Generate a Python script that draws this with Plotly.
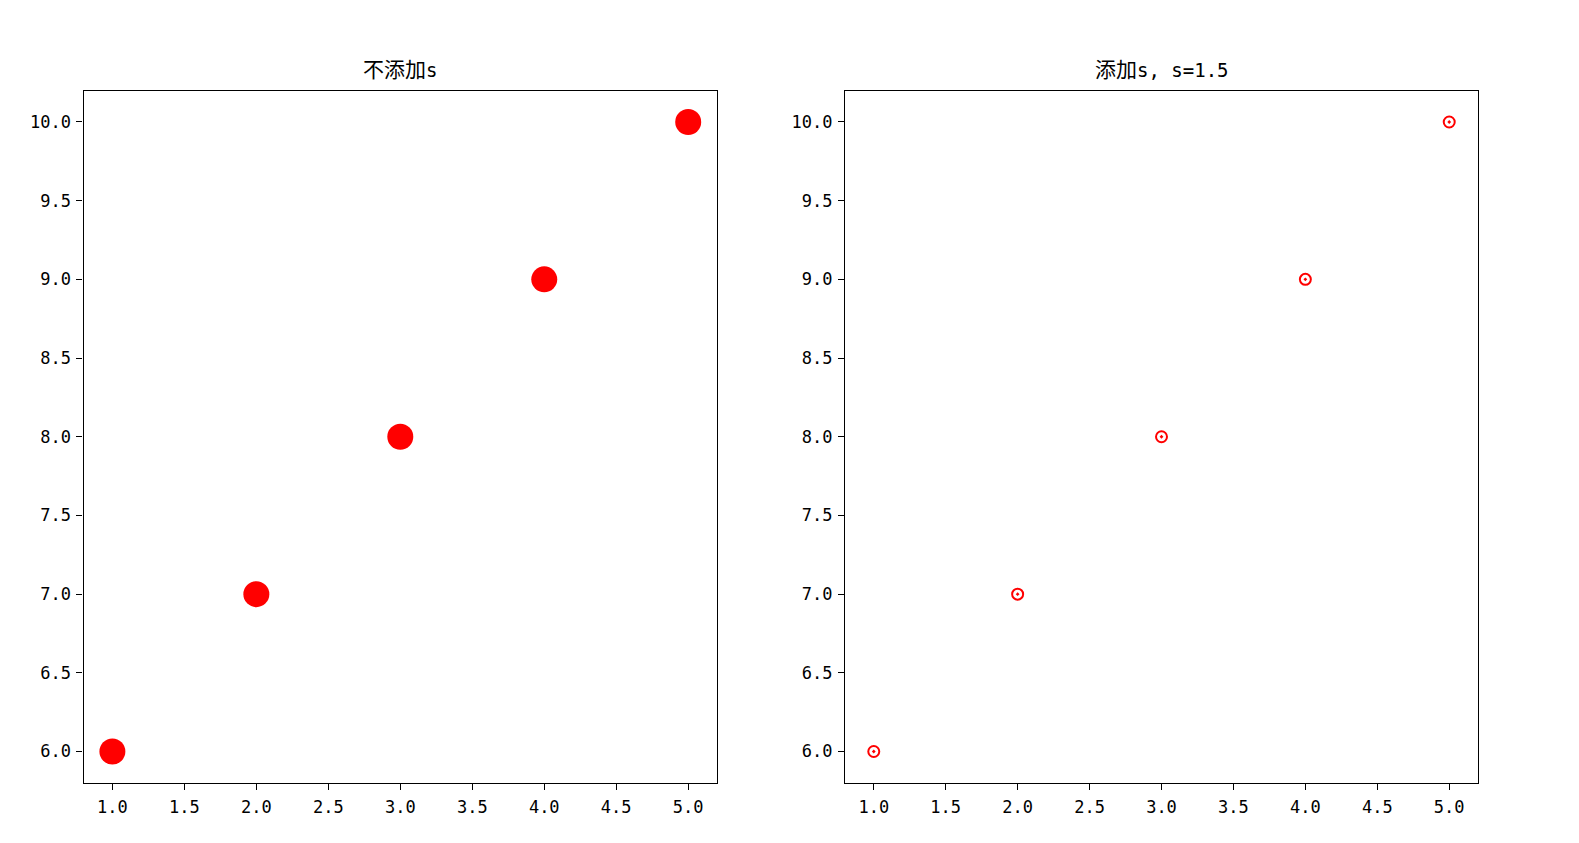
import plotly.graph_objects as go

x_vals = [1, 2, 3, 4, 5]
y_vals = [6, 7, 8, 9, 10]
titles = [("不添加", "s"), ("添加", "s, s=1.5")]
x_ticks = [1.0, 1.5, 2.0, 2.5, 3.0, 3.5, 4.0, 4.5, 5.0]
y_ticks = [6.0, 6.5, 7.0, 7.5, 8.0, 8.5, 9.0, 9.5, 10.0]

PAGE_W, PAGE_H = 1579, 843
OFF = 8  # default body margin of the page
W, H = PAGE_W - 2 * OFF, PAGE_H - 2 * OFF
FONT = "Noto Sans CJK SC, SimHei, sans-serif"
TICK_FONT = "DejaVu Sans Mono, monospace"


def px_x(p):
    return (p - OFF) / W


def px_y(p):
    return 1 - (p - OFF) / H


fig = go.Figure()
fig.add_trace(go.Scatter(x=x_vals, y=y_vals, mode="markers",
                         marker=dict(color="red", size=26, symbol="circle"),
                         xaxis="x", yaxis="y", showlegend=False))
fig.add_trace(go.Scatter(x=x_vals, y=y_vals, mode="markers",
                         marker=dict(color="red", size=11, symbol="circle-open-dot",
                                     line=dict(width=2, color="red")),
                         xaxis="x2", yaxis="y2", showlegend=False))

xd1 = [px_x(83.6), px_x(717)]
xd2 = [px_x(845), px_x(1478)]
yd = [px_y(783), px_y(90.5)]

axis_common = dict(showline=True, mirror=True, linecolor="black", linewidth=1.3,
                   ticks="outside", ticklen=6, tickwidth=1, tickcolor="black",
                   showgrid=False, zeroline=False, ticklabelstandoff=2,
                   tickfont=dict(family=TICK_FONT, size=17, color="black"),
                   tickformat=".1f")

fig.update_layout(
    width=W, height=H,
    margin=dict(l=0, r=0, t=0, b=0),
    paper_bgcolor="white", plot_bgcolor="white",
    xaxis=dict(domain=xd1, range=[0.8, 5.2], tickvals=x_ticks, anchor="y", **axis_common),
    yaxis=dict(domain=yd, range=[5.8, 10.2], tickvals=y_ticks, anchor="x", **axis_common),
    xaxis2=dict(domain=xd2, range=[0.8, 5.2], tickvals=x_ticks, anchor="y2", **axis_common),
    yaxis2=dict(domain=yd, range=[5.8, 10.2], tickvals=y_ticks, anchor="x2", **axis_common),
)

for i, (cjk, latin) in enumerate(titles):
    xd = xd1 if i == 0 else xd2
    text = (cjk + "<span style='font-family:DejaVu Sans Mono, monospace;font-size:19px'>"
            + latin + "</span>")
    fig.add_annotation(text=text, x=(xd[0] + xd[1]) / 2, y=yd[1], xref="paper", yref="paper",
                       xanchor="center", yanchor="bottom", yshift=6, showarrow=False,
                       font=dict(family=FONT, size=21, color="black"))

fig.write_html("out.html")
